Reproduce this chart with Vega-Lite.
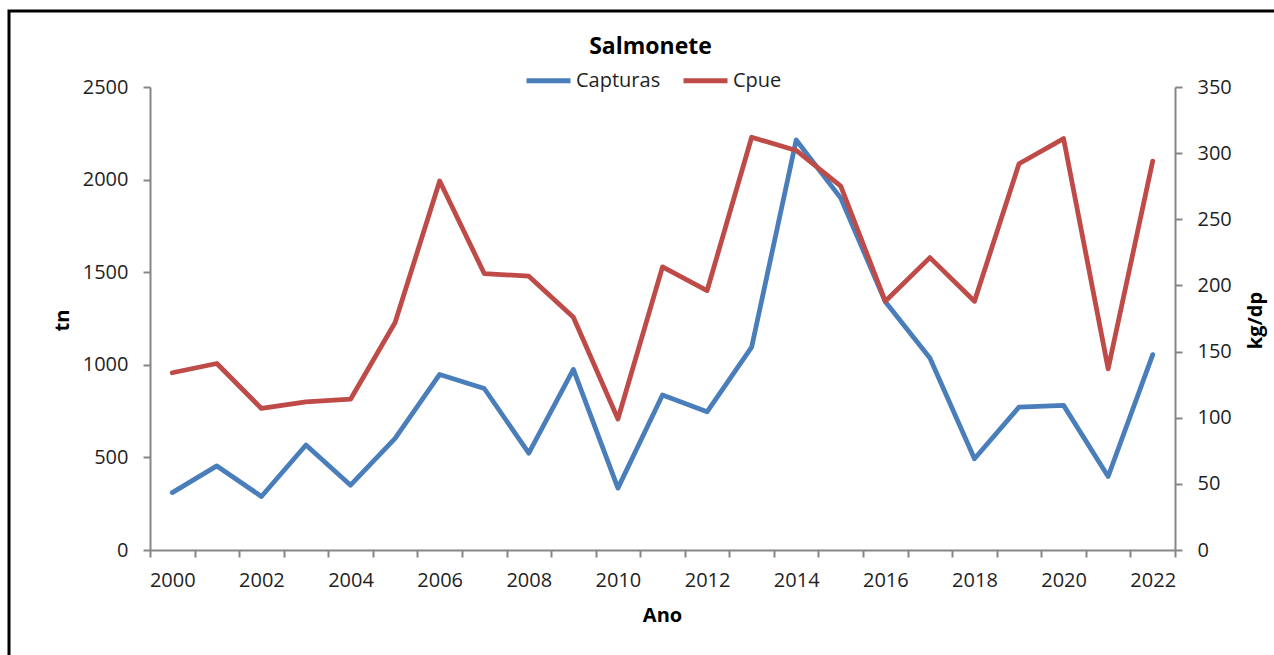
{
  "$schema": "https://vega.github.io/schema/vega-lite/v6.json",
  "width": 1265,
  "height": 644,
  "autosize": {"type": "none"},
  "padding": {"left": 9, "top": 11, "right": 0, "bottom": 0},
  "background": "white",
  "title": {"text": "Salmonete", "anchor": "middle", "frame": "group", "offset": -66, "dx": 9, "baseline": "alphabetic", "font": "Open Sans", "fontSize": 23, "fontWeight": "bold", "color": "#000000"},
  "data": {"values": [
    {"ano": 2000, "capturas": 310, "cpue": 134},
    {"ano": 2001, "capturas": 454, "cpue": 141},
    {"ano": 2002, "capturas": 289, "cpue": 107},
    {"ano": 2003, "capturas": 567, "cpue": 112},
    {"ano": 2004, "capturas": 350, "cpue": 114},
    {"ano": 2005, "capturas": 603, "cpue": 172},
    {"ano": 2006, "capturas": 948, "cpue": 279},
    {"ano": 2007, "capturas": 872, "cpue": 209},
    {"ano": 2008, "capturas": 523, "cpue": 207},
    {"ano": 2009, "capturas": 975, "cpue": 176},
    {"ano": 2010, "capturas": 334, "cpue": 99},
    {"ano": 2011, "capturas": 837, "cpue": 214},
    {"ano": 2012, "capturas": 746, "cpue": 196},
    {"ano": 2013, "capturas": 1095, "cpue": 312},
    {"ano": 2014, "capturas": 2214, "cpue": 302},
    {"ano": 2015, "capturas": 1900, "cpue": 275},
    {"ano": 2016, "capturas": 1340, "cpue": 188},
    {"ano": 2017, "capturas": 1037, "cpue": 221},
    {"ano": 2018, "capturas": 493, "cpue": 188},
    {"ano": 2019, "capturas": 772, "cpue": 292},
    {"ano": 2020, "capturas": 781, "cpue": 311},
    {"ano": 2021, "capturas": 397, "cpue": 137},
    {"ano": 2022, "capturas": 1055, "cpue": 294}
  ]},
  "encoding": {
    "x": {
      "field": "ano", "type": "ordinal",
      "scale": {"range": [141, 1166], "paddingInner": 0, "paddingOuter": 0},
      "axis": {
        "orient": "bottom", "offset": -105, "title": "Ano",
        "titleX": 653, "titleY": 65, "titleBaseline": "middle", "titleAlign": "center",
        "titleFontSize": 20, "titleFontWeight": "bold", "titleColor": "#000000", "titleFont": "Open Sans",
        "labelExpr": "datum.value % 2 == 0 ? datum.label : ''",
        "labelAngle": 0, "labelFontSize": 20, "labelColor": "#1f1f1f", "labelFont": "Open Sans",
        "labelPadding": 13, "labelOverlap": false,
        "tickBand": "extent", "tickSize": 7, "tickWidth": 2, "tickColor": "#868686",
        "domainColor": "#868686", "domainWidth": 2, "grid": false
      }
    }
  },
  "layer": [
    {
      "mark": {"type": "line", "strokeWidth": 4.8, "strokeJoin": "round", "strokeCap": "round"},
      "encoding": {
        "y": {
          "field": "capturas", "type": "quantitative",
          "scale": {"domain": [0, 2500], "range": [539, 76], "nice": false, "zero": true},
          "axis": {
            "orient": "left", "offset": -141, "values": [0, 500, 1000, 1500, 2000, 2500], "format": "d",
            "title": "tn", "titleX": -88, "titleY": 309, "titleAngle": 270,
            "titleBaseline": "middle", "titleAlign": "center",
            "titleFontSize": 20, "titleFontWeight": "bold", "titleColor": "#000000", "titleFont": "Open Sans",
            "labelFontSize": 20, "labelColor": "#1f1f1f", "labelFont": "Open Sans", "labelPadding": 15,
            "tickSize": 7, "tickWidth": 2, "tickColor": "#868686",
            "domainColor": "#868686", "domainWidth": 2, "grid": false
          }
        },
        "color": {
          "datum": "Capturas", "type": "nominal",
          "scale": {"domain": ["Capturas", "Cpue"], "range": ["#4A7EBB", "#BE4B48"]},
          "legend": {
            "orient": "none", "legendX": 515, "legendY": 45, "direction": "horizontal",
            "title": null, "symbolType": "stroke", "symbolSize": 1936, "symbolStrokeWidth": 5,
            "labelFontSize": 20, "labelColor": "#1f1f1f", "labelFont": "Open Sans",
            "labelOffset": 3, "columnPadding": 12, "padding": 0
          }
        }
      }
    },
    {
      "mark": {"type": "line", "strokeWidth": 4.8, "strokeJoin": "round", "strokeCap": "round"},
      "encoding": {
        "y": {
          "field": "cpue", "type": "quantitative",
          "scale": {"domain": [0, 350], "range": [539, 76], "nice": false, "zero": true},
          "axis": {
            "orient": "right", "offset": -99, "values": [0, 50, 100, 150, 200, 250, 300, 350], "format": "d",
            "title": "kg/dp", "titleX": 80, "titleY": 309, "titleAngle": 270,
            "titleBaseline": "middle", "titleAlign": "center",
            "titleFontSize": 20, "titleFontWeight": "bold", "titleColor": "#000000", "titleFont": "Open Sans",
            "labelFontSize": 20, "labelColor": "#1f1f1f", "labelFont": "Open Sans", "labelPadding": 15,
            "tickSize": 7, "tickWidth": 2, "tickColor": "#868686",
            "domainColor": "#868686", "domainWidth": 2, "grid": false
          }
        },
        "color": {"datum": "Cpue", "type": "nominal"}
      }
    }
  ],
  "resolve": {"scale": {"y": "independent"}},
  "config": {
    "font": "Open Sans",
    "view": {"stroke": "#000000", "strokeWidth": 3, "strokeDash": [1265, 1909, 644, 0], "strokeCap": "square"}
  }
}
